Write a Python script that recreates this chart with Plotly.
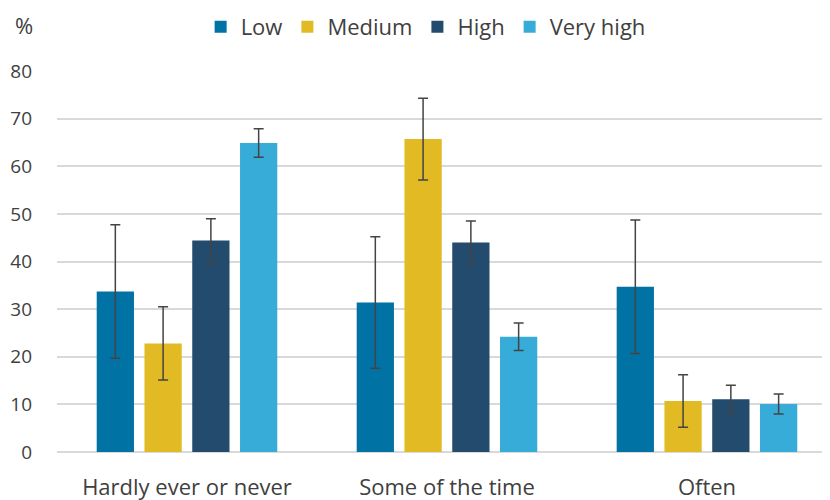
import plotly.graph_objects as go

categories = ["Hardly ever or never", "Some of the time", "Often"]
series_names = ["Low", "Medium", "High", "Very high"]
low = [33.7, 31.4, 34.7]
medium = [22.8, 65.7, 10.7]
high = [44.4, 44.0, 11.1]
very_high = [64.9, 24.2, 10.1]
low_err = [14.0, 13.8, 14.0]
medium_err = [7.7, 8.6, 5.5]
high_err = [4.6, 4.5, 2.9]
very_high_err = [3.0, 2.9, 2.1]
y_ticks = [0, 10, 20, 30, 40, 50, 60, 70, 80]

colors = ["#0072A3", "#E2BB24", "#234B6E", "#38ACD8"]
values = [low, medium, high, very_high]
errs = [low_err, medium_err, high_err, very_high_err]

fig = go.Figure()
for name, vals, err, col in zip(series_names, values, errs, colors):
    fig.add_trace(go.Bar(
        x=categories, y=vals, name=name,
        marker=dict(color=col, line=dict(width=0)),
        error_y=dict(type="data", array=err, visible=True,
                     color="#444444", thickness=1.5, width=5),
    ))

font_family = "'Open Sans', sans-serif"
fig.update_layout(
    width=830, height=500,
    barmode="group", bargap=0.265, bargroupgap=0.22,
    plot_bgcolor="white", paper_bgcolor="white",
    margin=dict(l=49, r=0, t=63, b=56),
    font=dict(family=font_family, size=19, color="#404040"),
    legend=dict(orientation="h", x=0.472, xanchor="center", y=0.962, yref="container",
                yanchor="middle", font=dict(size=22, color="#404040"),
                itemwidth=30, traceorder="normal"),
    xaxis=dict(type="category", range=[-0.5, 2.504], showgrid=False, automargin=False,
               showline=False, ticks="", ticklabelstandoff=20,
               tickfont=dict(size=22, color="#404040")),
    yaxis=dict(range=[0, 80], tickvals=y_ticks, showgrid=True, gridcolor="#D9D9D9",
               gridwidth=1.5, zeroline=True, zerolinecolor="#D9D9D9", zerolinewidth=1.5,
               showline=False, ticks="", ticklabelstandoff=24, automargin=False,
               tickfont=dict(size=19, color="#404040")),
    annotations=[dict(text="%", xref="paper", yref="paper", x=-0.042, y=1.121,
                      xanchor="center", yanchor="middle", showarrow=False,
                      font=dict(size=22, color="#404040"))],
)
fig.write_html("out.html")
